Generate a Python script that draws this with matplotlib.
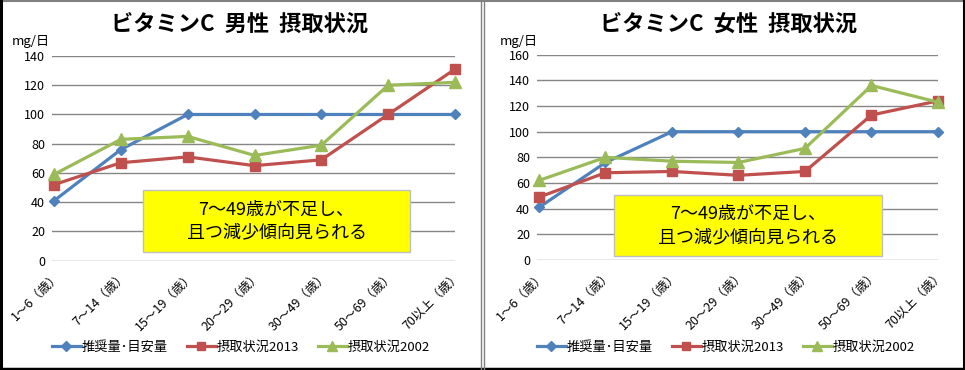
import matplotlib
matplotlib.use("Agg")
import matplotlib.pyplot as plt
from matplotlib.lines import Line2D

plt.rcParams['font.family'] = ['Noto Sans CJK JP', 'DejaVu Sans']

# categories (age groups)
ages = ["1～6（歳）", "7～14（歳）", "15～19（歳）", "20～29（歳）",
        "30～49（歳）", "50～69（歳）", "70以上（歳）"]
series_names = ["推奨量･目安量", "摂取状況2013", "摂取状況2002"]

# male, mg/day
male_rec = [41, 76, 100, 100, 100, 100, 100]
male_2013 = [52, 67, 71, 65, 69, 100, 131]
male_2002 = [59, 83, 85, 72, 79, 120, 122]

# female, mg/day
female_rec = [41, 76, 100, 100, 100, 100, 100]
female_2013 = [49, 68, 69, 66, 69, 113, 124]
female_2002 = [62, 80, 77, 76, 87, 136, 123]

note = "7～49歳が不足し、\n且つ減少傾向見られる"

colors = ["#4F81BD", "#C0504D", "#9BBB59"]
markers = ["D", "s", "^"]
msizes = [5.5, 7.5, 8]

fig = plt.figure(figsize=(9.65, 3.7), dpi=100)
W, H = 965, 370


def draw_panel(rect, title, title_x, data, ymax, box, mg_x):
    ax = fig.add_axes(rect)
    x = list(range(len(ages)))
    for vals, c, m, ms, name in zip(data, colors, markers, msizes, series_names):
        ax.plot(x, vals, color=c, lw=2.3, marker=m, markersize=ms,
                markeredgecolor=c, label=name, zorder=3, clip_on=False)
    ax.set_ylim(0, ymax)
    ax.set_yticks(range(0, ymax + 1, 20))
    ax.set_xlim(-0.03, 6.0)
    ax.set_xticks(x)
    ax.set_xticklabels(ages, rotation=45, ha="right", rotation_mode="anchor",
                       fontsize=9)
    ax.tick_params(axis="both", length=0, labelsize=9, pad=5)
    ax.tick_params(axis="x", pad=6)
    ax.grid(axis="y", color="#868686", lw=1)
    ax.set_axisbelow(True)
    for s in ax.spines.values():
        s.set_visible(False)
    fig.text(title_x / W, 1 - 24 / H, title, ha="center", va="center",
             fontsize=16, fontweight="bold")
    fig.text(mg_x / W, 1 - 41 / H, "mg/日", ha="left", va="center", fontsize=9.5)
    # yellow note box (pixel extents)
    bx0, by0, bx1, by1 = box
    fig.patches.append(plt.Rectangle((bx0 / W, 1 - by1 / H), (bx1 - bx0) / W,
                                     (by1 - by0) / H, transform=fig.transFigure,
                                     fc="#FFFF00", ec="#BFBFBF", lw=1, zorder=4))
    fig.text((bx0 + bx1) / 2 / W, 1 - (by0 + by1) / 2 / H, note,
             ha="center", va="center", fontsize=13, linespacing=1.35, zorder=6)
    return ax


ax1 = draw_panel([52 / W, 1 - 260.7 / H, (455 - 52) / W, (260.7 - 56) / H],
                 "ビタミンC  男性  摂取状況", 240,
                 [male_rec, male_2013, male_2002], 140,
                 (143, 190, 410, 252), 12)
ax2 = draw_panel([537 / W, 1 - 260 / H, (938 - 537) / W, (260 - 54.7) / H],
                 "ビタミンC  女性  摂取状況", 729,
                 [female_rec, female_2013, female_2002], 160,
                 (614, 195, 882, 256), 500)

for ax, cx in [(ax1, 241), (ax2, 726)]:
    h, l = ax.get_legend_handles_labels()
    fig.legend(h, l, loc="center", bbox_to_anchor=(cx / W, 1 - 347 / H),
               ncol=3, frameon=False, fontsize=9.5, handlelength=2.2,
               columnspacing=1.4, handletextpad=0.1, markerscale=0.85)

# panel borders
def fline(xs, ys, c, lw):
    fig.add_artist(Line2D([v / W for v in xs], [1 - v / H for v in ys],
                          color=c, lw=lw, transform=fig.transFigure))

fline([0, 965], [1, 1], "#808080", 1.5)
fline([1, 1], [0, 370], "black", 2.2)
fline([964, 964], [0, 370], "black", 2.2)
fline([0, 965], [368.5, 368.5], "black", 2.5)
fline([480.5, 480.5], [0, 370], "#808080", 1)
fline([484, 484], [0, 370], "#808080", 1)

fig.savefig("out.png", dpi=100)
